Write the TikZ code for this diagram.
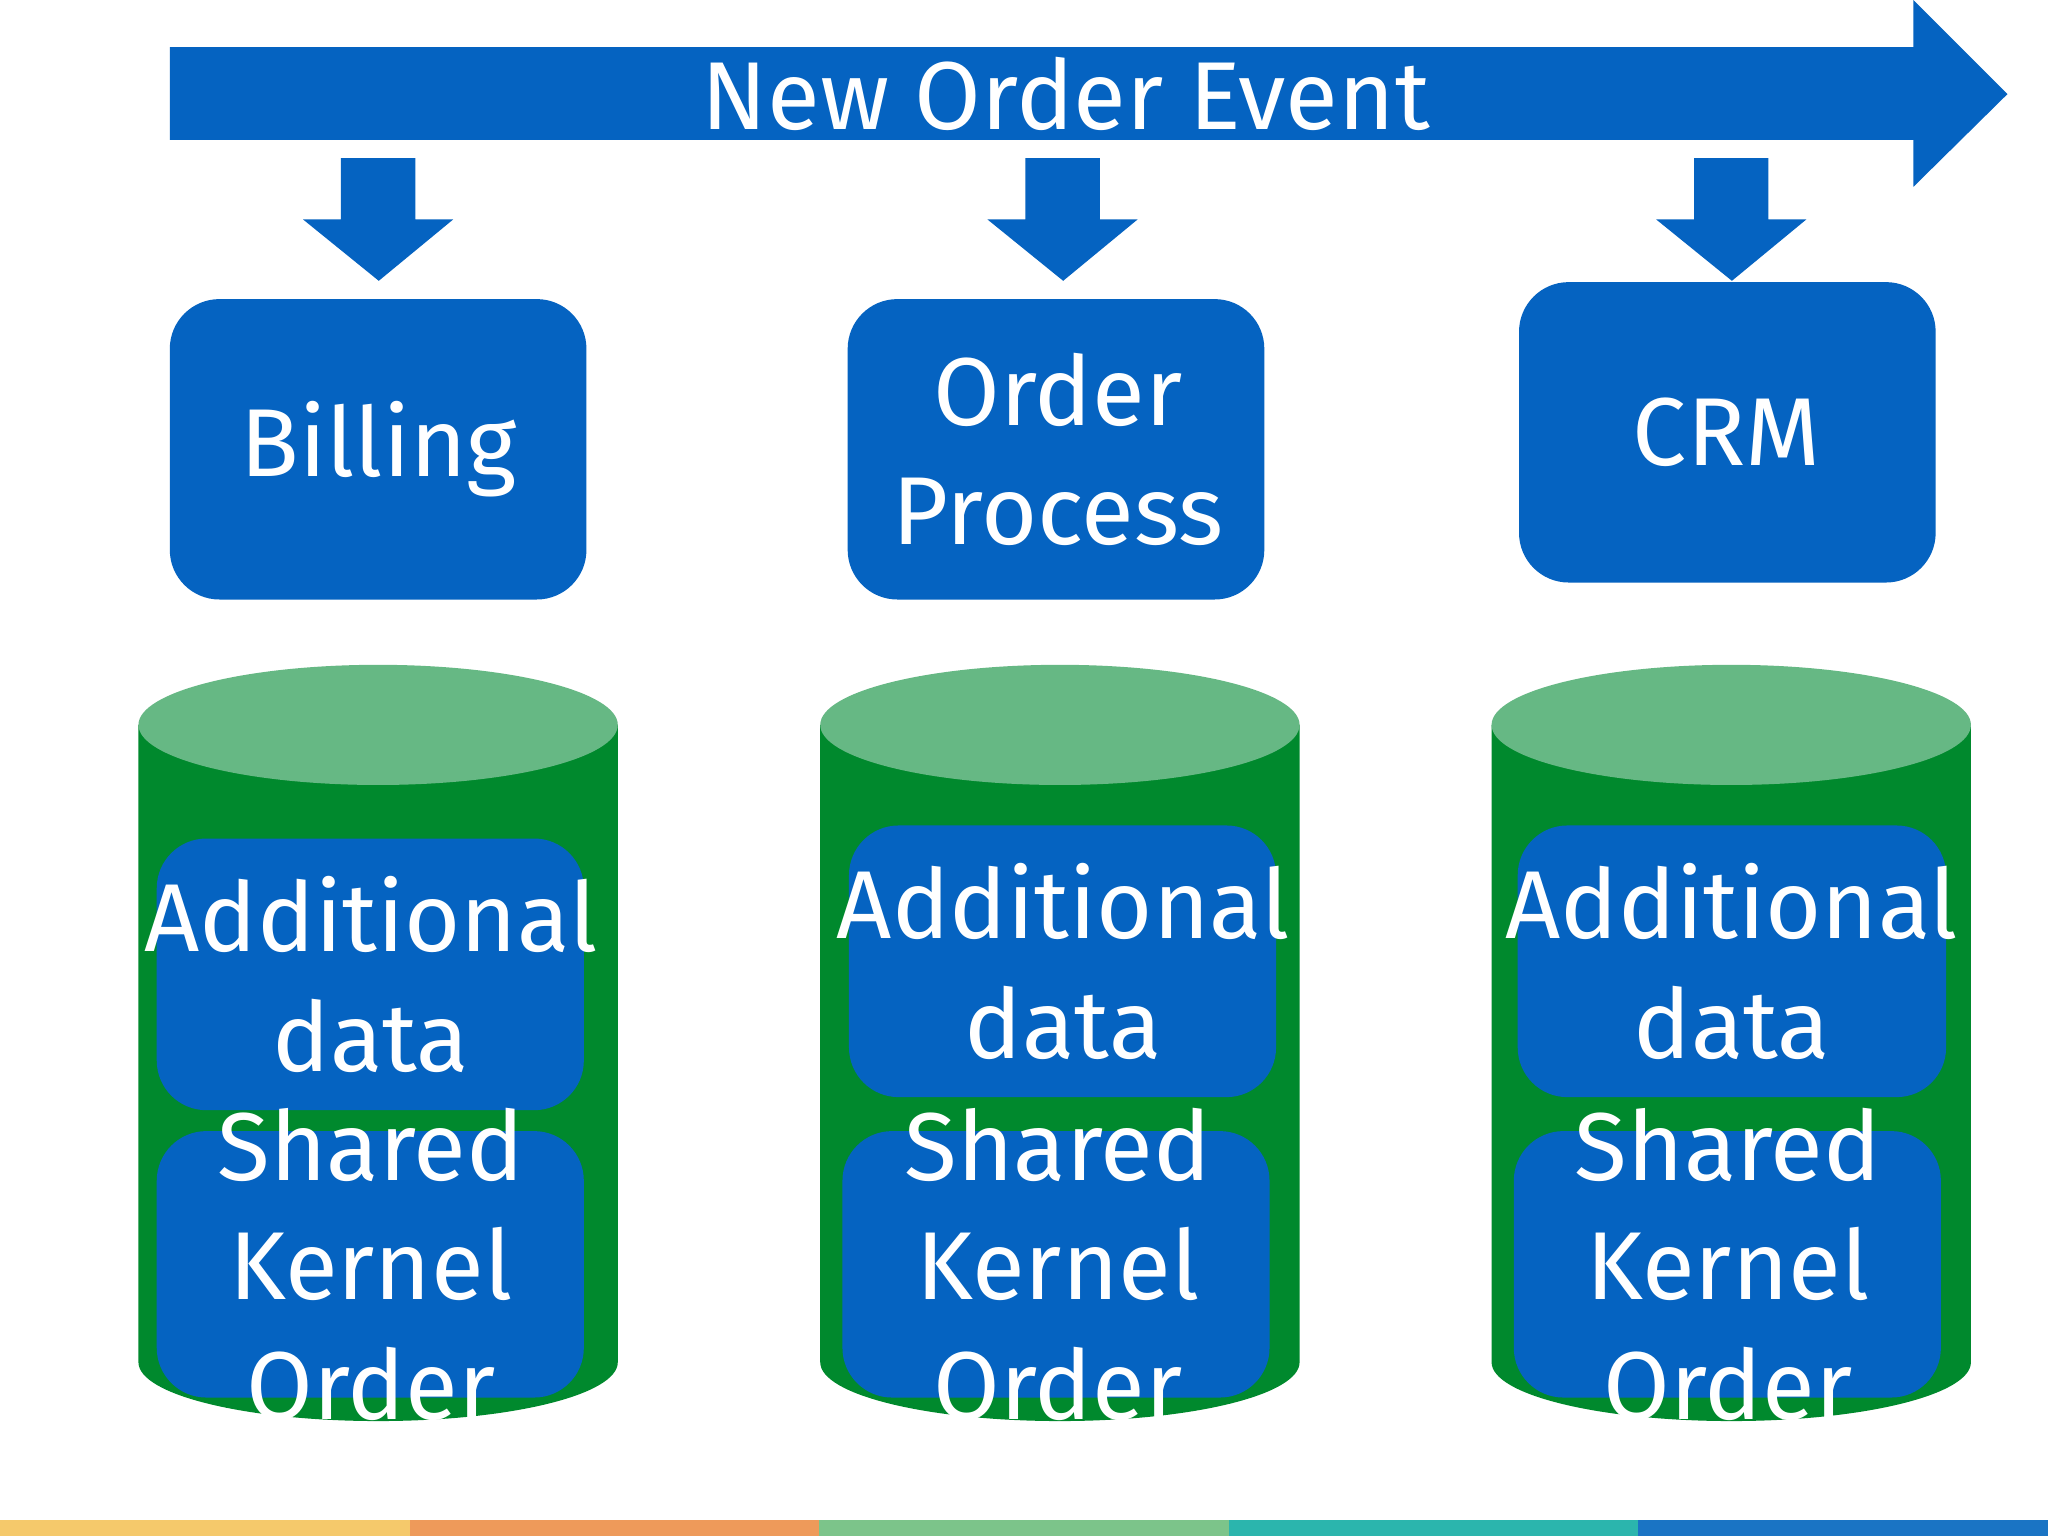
\documentclass[tikz,border=0pt]{standalone}
\usepackage{fontspec}
\setmainfont{Fira Sans}
\definecolor{bl}{HTML}{0563C1}
\definecolor{gr}{HTML}{00892D}
\definecolor{lg}{HTML}{66B884}
\definecolor{s1}{HTML}{F5C96B}
\definecolor{s2}{HTML}{EE9A5A}
\definecolor{s3}{HTML}{7CC48A}
\definecolor{s4}{HTML}{2BB5AD}
\definecolor{s5}{HTML}{1A74C4}
\begin{document}
\begin{tikzpicture}[x=0.01cm,y=-0.01cm,
  box/.style={fill=bl,rounded corners=0.38cm},
  txt/.style={text=white,align=center,font=\fontsize{21}{26}\selectfont},
  arr/.style={fill=bl}]
\useasboundingbox (0,0) rectangle (1568,1176);
\fill[white] (0,0) rectangle (1568,1176);
% big arrow
\fill[arr] (130,36) -- (1465,36) -- (1465,0) -- (1537,72) -- (1465,143) -- (1465,107) -- (130,107) -- cycle;
\node[txt] (ev) at (816,72) {New Order Event};
% small arrows
\foreach \c/\t in {290/215,814/215,1326/215}{
  \fill[arr] (\c-29,121) -- (\c+28,121) -- (\c+28,168) -- (\c+57,168) -- (\c,\t) -- (\c-58,168) -- (\c-29,168) -- cycle;}
% service boxes
\fill[box] (130,229) rectangle (449,459);
\node[txt] (bill) at (290,344) {Billing};
\fill[box] (649,229) rectangle (968,459);
\node[txt] (op) at (810,344) {Order\\Process};
\fill[box] (1163,216) rectangle (1482,446);
\node[txt] (crm) at (1322,331) {CRM};
% cylinders
\foreach \l in {106,628,1142}{
  \fill[gr] (\l,555) -- (\l,1043) arc[start angle=180,end angle=360,x radius=183.5,y radius=-45] -- (\l+367,555) -- cycle;
  \fill[lg] (\l+183.5,555) ellipse[x radius=183.5,y radius=46];}
% inner boxes
\fill[box] (120,642) rectangle (447,850);
\node[txt] (a1) at (284,746) {Additional\\data};
\fill[box] (650,632) rectangle (977,840);
\node[txt] (a2) at (814,736) {Additional\\data};
\fill[box] (1162,632) rectangle (1490,840);
\node[txt] (a3) at (1326,736) {Additional\\data};
\fill[box] (120,866) rectangle (447,1070);
\node[txt] (k1) at (284,968) {Shared\\Kernel\\Order};
\fill[box] (645,866) rectangle (972,1070);
\node[txt] (k2) at (810,968) {Shared\\Kernel\\Order};
\fill[box] (1159,866) rectangle (1486,1070);
\node[txt] (k3) at (1323,968) {Shared\\Kernel\\Order};
% stripes
\fill[s1] (0,1164) rectangle (314,1176);
\fill[s2] (314,1164) rectangle (627,1176);
\fill[s3] (627,1164) rectangle (941,1176);
\fill[s4] (941,1164) rectangle (1254,1176);
\fill[s5] (1254,1164) rectangle (1568,1176);
\end{tikzpicture}
\end{document}
